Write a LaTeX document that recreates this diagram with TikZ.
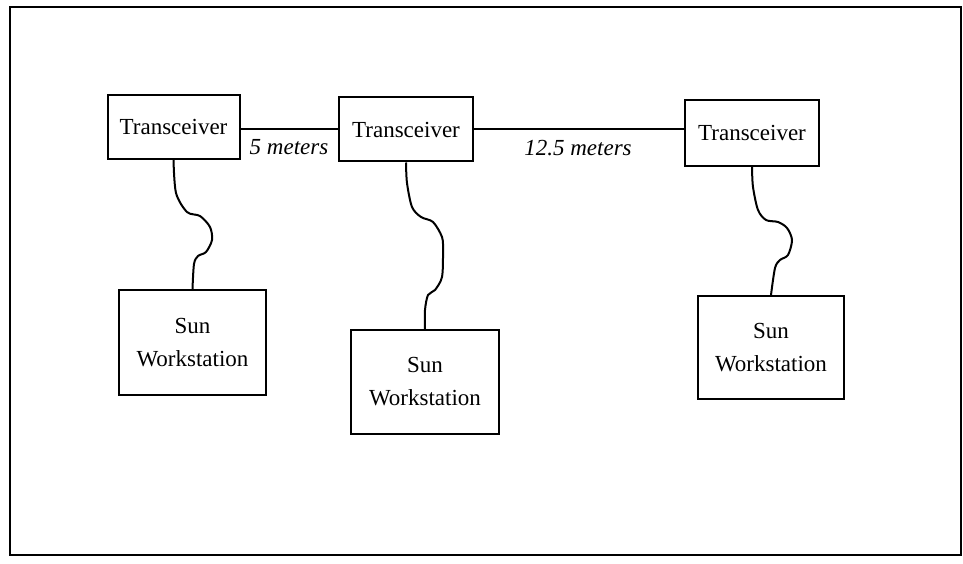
\documentclass[tikz,border=0pt]{standalone}
\usepackage{fontspec}
\setmainfont{Liberation Serif}
\begin{document}
\begin{tikzpicture}[x=1pt,y=-1pt,
  box/.style={draw,line width=2pt,rectangle,inner sep=0pt,align=center,font=\fontsize{23}{33}\selectfont},
  wire/.style={line width=2pt},
  lbl/.style={font=\fontsize{23}{26}\selectfont\itshape,inner sep=0pt}]
\useasboundingbox (0,0) rectangle (963,564);
\draw[line width=2.4pt] (10,7) rectangle (961,555);
\node[box,minimum width=132pt,minimum height=64pt] (T1) at (173.5,127) {Transceiver};
\node[box,minimum width=134pt,minimum height=64pt] (T2) at (406,129.5) {Transceiver};
\node[box,minimum width=134pt,minimum height=66pt] (T3) at (752,133) {Transceiver};
\node[box,minimum width=147pt,minimum height=105pt] (W1) at (192.5,342.5) {Sun\\Workstation};
\node[box,minimum width=148pt,minimum height=104pt] (W2) at (425,382) {Sun\\Workstation};
\node[box,minimum width=146pt,minimum height=103pt] (W3) at (771,347.5) {Sun\\Workstation};
\draw[wire] (T1.east |- T2.west) -- (T2.west);
\draw[wire] (T2.east) -- (T2.east -| T3.west);
\node[lbl] (L1) at (289,147) {5 meters};
\node[lbl] (L2) at (578,148) {12.5 meters};
\draw[wire] plot[smooth,tension=0.5] coordinates {(T1.south) (176,193) (187,212) (200,216) (210,227) (212,240) (206,252) (198,256) (194,264) (W1.north)};
\draw[wire] plot[smooth,tension=0.5] coordinates {(T2.south) (407,183) (412,207) (421,217) (433,222) (442,237) (443,252) (442,277) (435,290) (428,295) (425,310) (W2.north)};
\draw[wire] plot[smooth,tension=0.5] coordinates {(T3.south) (753,187) (758,210) (766,220) (778,222) (787,228) (792,240) (788,255) (780,260) (775,268) (W3.north)};
\end{tikzpicture}
\end{document}
